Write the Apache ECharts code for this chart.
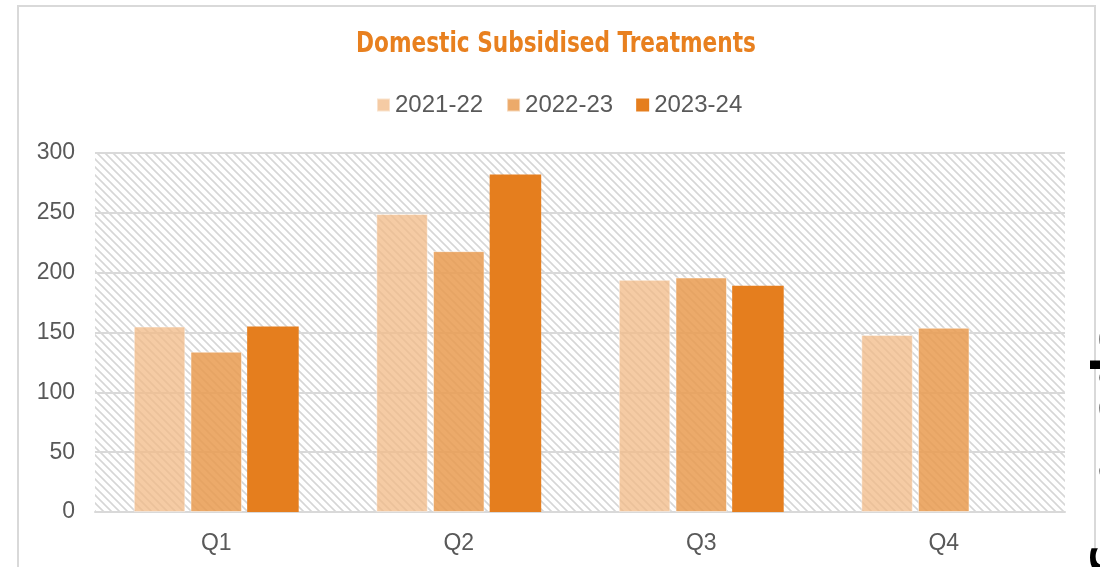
<!DOCTYPE html>
<html lang="en">
<head>
	<meta charset="UTF-8">
	<title>Domestic Subsidised Treatments</title>
	<script src="https://cdn.jsdelivr.net/npm/echarts@6/dist/echarts.min.js"></script>
	<style>
		html, body { margin: 0; padding: 0; background: #fff; }
		#chart { width: 1100px; height: 567px; }
	</style>
</head>
<body>
	<div id="chart"></div>
	<script>
		// 数据
		var quarters = ['Q1', 'Q2', 'Q3', 'Q4'];
		var seriesNames = ['2021-22', '2022-23', '2023-24'];
		var fy2122 = [155, 249, 194, 148];
		var fy2223 = [134, 218, 196, 154];
		var fy2324 = [155, 282, 189, null];
		var yTicks = [0, 50, 100, 150, 200, 250, 300];

		// 斜线底纹
		function makeHatch() {
			var c = document.createElement('canvas');
			c.width = 8;
			c.height = 8;
			var ctx = c.getContext('2d');
			ctx.strokeStyle = '#d6d6d6';
			ctx.lineWidth = 1.6;
			ctx.beginPath();
			ctx.moveTo(-2, -2); ctx.lineTo(10, 10);
			ctx.moveTo(-2, 6); ctx.lineTo(2, 10);
			ctx.moveTo(6, -2); ctx.lineTo(10, 2);
			ctx.stroke();
			return c;
		}

		var gridL = 95, gridT = 153, gridW = 970, gridH = 359;
		var labelFont = 'Liberation Sans, Arial, sans-serif';

		var chart = echarts.init(document.getElementById('chart'));
		var option = {
			animation: false,
			legend: {
				top: 88,
				left: 371,
				itemWidth: 13,
				itemHeight: 13,
				itemGap: 23,
				icon: 'rect',
				textStyle: { color: '#595959', fontSize: 24, fontFamily: labelFont },
				data: seriesNames
			},
			grid: { left: gridL, top: gridT, width: gridW, height: gridH },
			xAxis: {
				type: 'category',
				data: quarters,
				axisLine: { lineStyle: { color: '#d9d9d9', width: 2 } },
				axisTick: { show: false },
				axisLabel: { color: '#595959', fontSize: 23, margin: 20, fontFamily: labelFont }
			},
			yAxis: {
				type: 'value',
				min: yTicks[0],
				max: yTicks[yTicks.length - 1],
				interval: 50,
				axisLine: { show: false },
				axisTick: { show: false },
				axisLabel: { color: '#595959', fontSize: 23, margin: 20, fontFamily: labelFont },
				splitLine: { lineStyle: { color: '#d9d9d9', width: 2 } }
			},
			graphic: [
				{
					// 标题（窄体）
					type: 'text',
					silent: true,
					x: 556,
					y: 44,
					scaleX: 0.83,
					style: {
						text: 'Domestic Subsidised Treatments',
						fill: '#E8801F',
						font: 'bold 29px "DejaVu Sans Condensed", "DejaVu Sans", sans-serif',
						align: 'center',
						verticalAlign: 'middle'
					}
				},
				{
					type: 'rect',
					z: -10,
					silent: true,
					shape: { x: gridL, y: gridT, width: gridW, height: gridH },
					style: { fill: { image: makeHatch(), repeat: 'repeat' } }
				},
				{
					type: 'rect',
					z: -10,
					silent: true,
					shape: { x: 18, y: 6, width: 1077, height: 620 },
					style: { fill: 'none', stroke: '#d9d9d9', lineWidth: 2 }
				},
				{
					// 右侧被裁切的文字
					type: 'text',
					z: 5,
					silent: true,
					x: 1136,
					y: 322,
					rotation: -Math.PI / 2,
					style: {
						text: 'Spending',
						fill: '#000',
						font: 'bold 48px "DejaVu Sans", sans-serif',
						verticalAlign: 'top'
					}
				}
			],
			series: [
				{
					name: seriesNames[0],
					type: 'bar',
					data: fy2122,
					barGap: '10%',
					barCategoryGap: '32%',
					itemStyle: { color: '#F2BA86', opacity: 0.75, borderColor: 'rgba(255,255,255,0.6)', borderWidth: 1 }
				},
				{
					name: seriesNames[1],
					type: 'bar',
					data: fy2223,
					barGap: '10%',
					barCategoryGap: '32%',
					itemStyle: { color: '#E99B50', opacity: 0.85, borderColor: 'rgba(255,255,255,0.6)', borderWidth: 1 }
				},
				{
					name: seriesNames[2],
					type: 'bar',
					data: fy2324,
					barGap: '10%',
					barCategoryGap: '32%',
					itemStyle: { color: '#E57E1E' }
				}
			]
		};
		chart.setOption(option);
	</script>
</body>
</html>
